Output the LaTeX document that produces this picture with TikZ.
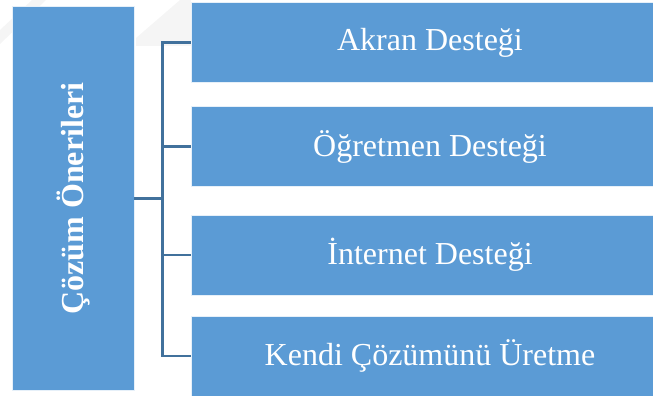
\documentclass[tikz,border=0pt]{standalone}
\usepackage{fontspec}
\setmainfont{Liberation Serif}
\usepackage{tikz}
\usetikzlibrary{positioning}

\definecolor{kutumavi}{HTML}{5B9BD5}
\definecolor{hatmavi}{HTML}{41719C}

\tikzset{
	kutu/.style={fill=kutumavi, draw=white!85!kutumavi, line width=0.8pt, inner sep=0pt},
	yazi/.style={text=white, font=\fontsize{32}{38}\selectfont},
	hat/.style={draw=hatmavi, line width=2.7pt}
}

\begin{document}
\begin{tikzpicture}[x=1pt,y=-1pt]
		\useasboundingbox (0,0) rectangle (653,396);
		% soluk filigran
		\fill[black!4] (0,30) -- (32,0) -- (46,0) -- (0,44) -- cycle;
		\fill[black!4] (136,38) -- (180,0) -- (191,0) -- (191,46) -- (136,46) -- cycle;
		
		\node[kutu, minimum width=121.5pt, minimum height=383.5pt] (oneri) at (73.2,198.5) {};
		\node[yazi, font=\fontsize{32}{38}\selectfont\bfseries, rotate=90] (oneriyazi) at (oneri.center) {Çözüm Önerileri};
		
		\node[kutu, minimum width=478pt, minimum height=80pt] (akran) at (430,42.7) {};
		\node[yazi] (akranyazi) at (akran.center) {Akran Desteği};
		
		\node[kutu, minimum width=478pt, minimum height=80pt] (ogretmen) at (430,146.7) {};
		\node[yazi] (ogretmenyazi) at (ogretmen.center) {Öğretmen Desteği};
		
		\node[kutu, minimum width=478pt, minimum height=80pt] (internet) at (430,255) {};
		\node[yazi] (internetyazi) at (internet.center) {İnternet Desteği};
		
		\node[kutu, minimum width=478pt, minimum height=80pt] (kendi) at (430,356) {};
		\node[yazi] (kendiyazi) at (kendi.center) {Kendi Çözümünü Üretme};
		
		\coordinate (dal) at (162.7,198.3);
		\draw[hat] (oneri.east |- dal) -- (dal);
		\draw[hat] (akran.west) -- (dal |- akran.west) -- (dal |- kendi.west) -- (kendi.west);
		\draw[hat] (ogretmen.west) -- (dal |- ogretmen.west);
		\draw[hat] (internet.west) -- (dal |- internet.west);
	\end{tikzpicture}
\end{document}
